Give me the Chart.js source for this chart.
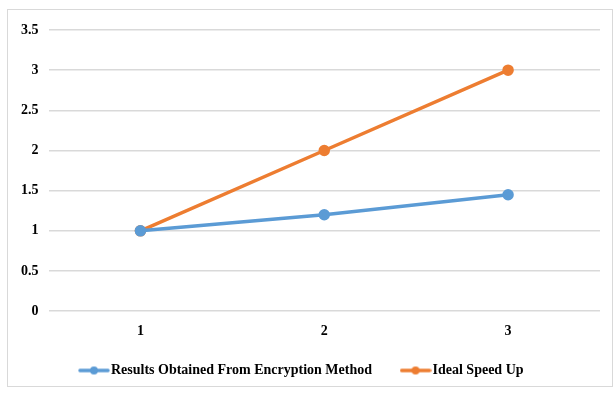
<!DOCTYPE html>
<html>
<head>
<meta charset="utf-8">
<script src="https://cdn.jsdelivr.net/npm/chart.js@4/dist/chart.umd.min.js"></script>
<style>
  html, body { margin: 0; padding: 0; background: #fff; }
  #frame { position: absolute; left: 7px; top: 9px; width: 606px; height: 378px; border: 1px solid #d9d9d9; box-sizing: border-box; }
  #c { display: block; }
</style>
</head>
<body>
<div id="frame"><canvas id="c" width="604" height="376"></canvas></div>
<script>
const categories = ['1', '2', '3'];
const encryptionResults = [1, 1.2, 1.45];
const idealSpeedUp = [1, 2, 3];
const yTicks = [0, 0.5, 1, 1.5, 2, 2.5, 3, 3.5];

const BLUE = '#5b9bd5';
const ORANGE = '#ed7d31';
const FONT = "'Liberation Serif', 'Times New Roman', serif";

// legend marker: short line with a dot in the middle
function legendMarker(color) {
  const cv = document.createElement('canvas');
  cv.width = 32; cv.height = 10;
  const g = cv.getContext('2d');
  g.strokeStyle = color; g.lineWidth = 3.5; g.lineCap = 'round';
  g.beginPath(); g.moveTo(2, 5); g.lineTo(30, 5); g.stroke();
  g.fillStyle = color;
  g.beginPath(); g.arc(16, 5, 4, 0, Math.PI * 2); g.fill();
  return cv;
}

new Chart(document.getElementById('c'), {
  type: 'line',
  data: {
    labels: categories,
    datasets: [
      {
        label: 'Results Obtained From Encryption Method',
        data: encryptionResults,
        borderColor: BLUE, backgroundColor: BLUE,
        borderWidth: 3.5, pointRadius: 4, pointHoverRadius: 4,
        pointStyle: 'circle', legendMarker: legendMarker(BLUE)
      },
      {
        label: 'Ideal Speed Up',
        data: idealSpeedUp,
        borderColor: ORANGE, backgroundColor: ORANGE,
        borderWidth: 3.5, pointRadius: 4, pointHoverRadius: 4,
        pointStyle: 'circle', legendMarker: legendMarker(ORANGE)
      }
    ]
  },
  options: {
    responsive: false,
    animation: false,
    layout: { padding: { left: 3, right: 12, top: 20, bottom: -1.5 } },
    plugins: {
      tooltip: { enabled: false },
      legend: {
        position: 'bottom',
        labels: {
          usePointStyle: true,
          pointStyleWidth: 20,
          color: '#000',
          font: { family: FONT, size: 14, weight: 'bold' },
          padding: 19.5,
          generateLabels(chart) {
            const n = chart.data.datasets.length;
            return chart.data.datasets.map((ds, i) => ({
              text: i < n - 1 ? ds.label + '    ' : ds.label + ' ',
              pointStyle: ds.legendMarker,
              fillStyle: ds.borderColor,
              strokeStyle: ds.borderColor,
              lineWidth: 0,
              hidden: false,
              datasetIndex: i,
              fontColor: '#000'
            }));
          }
        }
      }
    },
    scales: {
      x: {
        offset: true,
        grid: { display: false },
        border: { display: false },
        ticks: { color: '#000', font: { family: FONT, size: 14, weight: 'bold' }, padding: 4 }
      },
      y: {
        min: 0, max: 3.5,
        afterBuildTicks(axis) { axis.ticks = yTicks.map(v => ({ value: v })); },
        grid: { color: '#d9d9d9', lineWidth: 1.5, drawTicks: false },
        border: { display: false },
        ticks: {
          color: '#000', font: { family: FONT, size: 14, weight: 'bold' }, padding: 10,
          callback: v => String(v)
        }
      }
    }
  }
});
</script>
</body>
</html>
